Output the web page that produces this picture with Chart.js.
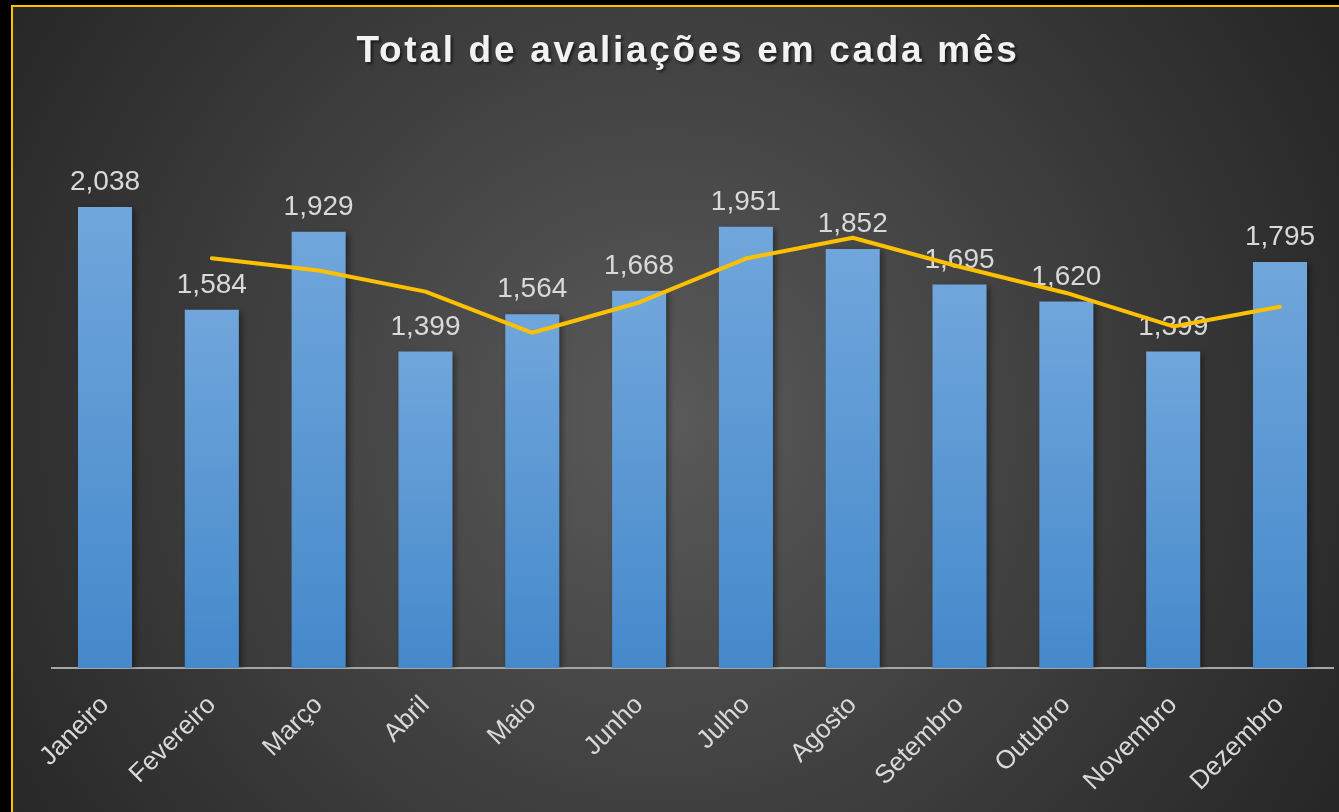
<!DOCTYPE html>
<html>
<head>
<meta charset="utf-8">
<script src="https://cdn.jsdelivr.net/npm/chart.js@4"></script>
<style>
  html, body { margin: 0; padding: 0; background: #000; }
  #wrap { position: absolute; left: 0; top: 0; width: 1339px; height: 812px; }
</style>
</head>
<body>
<div id="wrap"><canvas id="myChart" width="1339" height="812"></canvas></div>
<script>
const title = 'Total de avaliações em cada mês';
const months = ['Janeiro', 'Fevereiro', 'Março', 'Abril', 'Maio', 'Junho', 'Julho', 'Agosto', 'Setembro', 'Outubro', 'Novembro', 'Dezembro'];
const totals = [2038, 1584, 1929, 1399, 1564, 1668, 1951, 1852, 1695, 1620, 1399, 1795];
// trend line (starts at the 2nd month)
const trend = [null, 1811, 1757, 1664, 1482, 1616, 1810, 1902, 1774, 1658, 1510, 1597];

let ctx = document.getElementById('myChart').getContext('2d');

const background = {
  id: 'background',
  beforeDraw(chart) {
    let c = chart.ctx;
    let w = chart.width, h = chart.height;
    c.save();
    c.fillStyle = '#000';
    c.fillRect(0, 0, w, h);
    let g = c.createRadialGradient(660, 420, 0, 660, 420, 780);
    g.addColorStop(0, '#5a5a5a');
    g.addColorStop(1, '#262626');
    c.fillStyle = g;
    c.fillRect(12, 6, w, h);
    c.strokeStyle = '#ffc000';
    c.lineWidth = 2;
    c.beginPath();
    c.moveTo(12, h + 5);
    c.lineTo(12, 6);
    c.lineTo(w + 5, 6);
    c.stroke();
    // title
    c.font = 'bold 37px "Liberation Sans", Arial, sans-serif';
    c.letterSpacing = '2.7px';
    c.textAlign = 'center';
    c.textBaseline = 'alphabetic';
    c.shadowColor = 'rgba(0,0,0,0.6)';
    c.shadowBlur = 3;
    c.shadowOffsetX = 2;
    c.shadowOffsetY = 2;
    c.fillStyle = '#f2f2f2';
    c.fillText(title, 688, 62);
    c.restore();
  }
};

const barLabels = {
  id: 'barLabels',
  beforeDatasetDraw(chart, args) {
    if (args.index !== 0) return;
    let c = chart.ctx;
    c.save();
    c.shadowColor = 'rgba(0,0,0,0.4)';
    c.shadowBlur = 6;
    c.shadowOffsetX = 3;
    c.shadowOffsetY = 2;
  },
  afterDatasetDraw(chart, args) {
    if (args.index !== 0) return;
    let c = chart.ctx;
    c.restore();
    c.save();
    c.font = '28px "Liberation Sans", Arial, sans-serif';
    c.fillStyle = '#d9d9d9';
    c.textAlign = 'center';
    c.textBaseline = 'alphabetic';
    args.meta.data.forEach((bar, i) => {
      c.fillText(totals[i].toLocaleString('en-US'), bar.x, bar.y - 17);
    });
    c.restore();
  }
};

let myChart = new Chart(ctx, {
  type: 'bar',
  data: {
    labels: months,
    datasets: [{
      type: 'bar',
      data: totals,
      order: 1,
      categoryPercentage: 1,
      barPercentage: 0.506,
      backgroundColor: (context) => {
        let chart = context.chart;
        let y = chart.scales.y;
        if (!y || !context.parsed) return '#5b9bd5';
        let top = y.getPixelForValue(context.parsed.y);
        let bottom = y.getPixelForValue(0);
        if (!isFinite(top) || !isFinite(bottom) || top === bottom) return '#5b9bd5';
        let g = chart.ctx.createLinearGradient(0, top, 0, bottom);
        g.addColorStop(0, '#70a6db');
        g.addColorStop(1, '#4589cb');
        return g;
      }
    }, {
      type: 'line',
      data: trend,
      order: 0,
      borderColor: '#ffc000',
      borderWidth: 4,
      borderCapStyle: 'round',
      borderJoinStyle: 'round',
      pointRadius: 0,
      tension: 0,
      fill: false
    }]
  },
  options: {
    responsive: false,
    animation: false,
    layout: {
      padding: { left: 51.6, right: 5.6, top: 102.5, bottom: 0 }
    },
    plugins: {
      legend: { display: false },
      tooltip: { enabled: false },
      title: { display: false }
    },
    scales: {
      x: {
        grid: { display: false, drawTicks: false },
        border: { display: true, color: '#a6a6a6', width: 2 },
        ticks: {
          color: '#d9d9d9',
          font: { family: '"Liberation Sans", Arial, sans-serif', size: 26 },
          minRotation: 45,
          maxRotation: 45,
          padding: 22,
          autoSkip: false
        },
        afterFit: (scale) => { scale.height = 144; }
      },
      y: {
        display: false,
        min: 0,
        max: 2500
      }
    }
  },
  plugins: [background, barLabels]
});
</script>
</body>
</html>
